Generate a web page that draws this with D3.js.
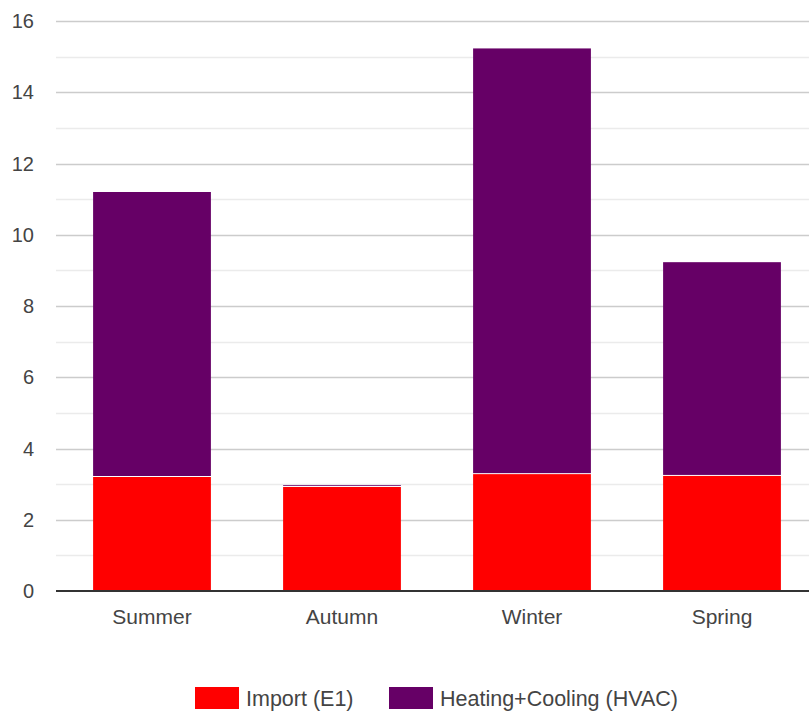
<!DOCTYPE html>
<html>
<head>
<meta charset="utf-8">
<script src="https://cdn.jsdelivr.net/npm/d3@7"></script>
<style>
  body { margin: 0; background: #fff; }
  svg { display: block; font-family: "Liberation Sans", Arial, sans-serif; }
</style>
</head>
<body>
<div class="Graph"></div>
<script>
// data
var seasons = ["Summer", "Autumn", "Winter", "Spring"];
var importE1 = [3.2, 2.92, 3.28, 3.23];
var hvac = [8.0, 0.05, 11.95, 6.0];
var seriesNames = ["Import (E1)", "Heating+Cooling (HVAC)"];
var seriesColors = ["#ff0000", "#660066"];
var yTicks = [0, 2, 4, 6, 8, 10, 12, 14, 16];

var W = 809, H = 711;
var plotLeft = 57, plotTop = 21, plotBottom = 591;

var svg = d3.select(".Graph")
    .append("svg")
    .attr("width", W)
    .attr("height", H);

var x = d3.scaleBand()
    .domain(seasons)
    .range([plotLeft, plotLeft + 760])
    .paddingInner(0.38)
    .paddingOuter(0.19);

var y = d3.scaleLinear()
    .domain([0, 16])
    .range([plotBottom, plotTop]);

// gridlines, minor then major
var grid = svg.append("g");
d3.range(1, 17).forEach(function (v) {
    grid.append("line")
        .attr("x1", plotLeft - 1).attr("x2", W)
        .attr("y1", Math.round(y(v)) + 0.5).attr("y2", Math.round(y(v)) + 0.5)
        .attr("stroke", v % 2 == 0 ? "#cccccc" : "#ebebeb")
        .attr("stroke-width", 1.3);
});

// y labels
svg.append("g")
    .selectAll("text")
    .data(yTicks)
    .enter()
    .append("text")
    .attr("x", 34)
    .attr("y", d => y(d) + 7)
    .attr("text-anchor", "end")
    .attr("fill", "#444")
    .style("font-size", "20px")
    .text(d => d);

var rows = seasons.map((s, i) => ({ season: s, imp: importE1[i], hvac: hvac[i] }));
var stack = d3.stack().keys(["imp", "hvac"])(rows);

svg.append("g")
    .selectAll("g")
    .data(stack)
    .enter()
    .append("g")
    .attr("fill", (d, i) => seriesColors[i])
    .selectAll("rect")
    .data(d => d)
    .enter()
    .append("rect")
    .attr("x", d => x(d.data.season))
    .attr("width", x.bandwidth())
    .attr("y", d => y(d[1]))
    .attr("height", d => Math.max(0, y(d[0]) - y(d[1]) - (d[0] > 0 ? 1 : 0)));

// x axis line
svg.append("line")
    .attr("x1", plotLeft - 1).attr("x2", W)
    .attr("y1", plotBottom).attr("y2", plotBottom)
    .attr("stroke", "#333")
    .attr("stroke-width", 2);

// category labels
svg.append("g")
    .selectAll("text")
    .data(seasons)
    .enter()
    .append("text")
    .attr("x", d => x(d) + x.bandwidth() / 2)
    .attr("y", 624)
    .attr("text-anchor", "middle")
    .attr("fill", "#444")
    .style("font-size", "21px")
    .text(d => d);

// legend
var legX = [195, 389];
var leg = svg.append("g");
seriesNames.forEach(function (n, i) {
    leg.append("rect")
        .attr("x", legX[i]).attr("y", 687)
        .attr("width", 44).attr("height", 22)
        .attr("fill", seriesColors[i]);
    leg.append("text")
        .attr("x", legX[i] + 51).attr("y", 706)
        .attr("fill", "#444")
        .style("font-size", "21.5px")
        .text(n);
});
</script>
</body>
</html>
